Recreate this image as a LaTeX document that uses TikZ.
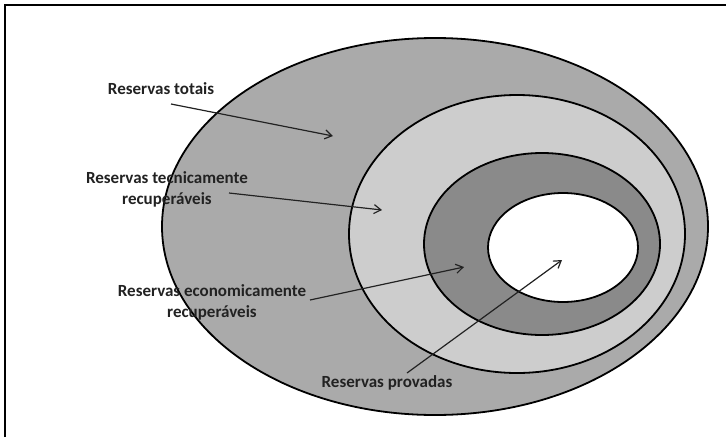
\documentclass[tikz,border=0pt]{standalone}
\usepackage{fontspec}
\setmainfont{Carlito}
\usepackage{xcolor}
\usepackage{tikz}
\usetikzlibrary{
  shapes.geometric,
  arrows.meta,
  positioning
}
\definecolor{RingOuter}{RGB}{170, 170, 170}
\definecolor{RingTech}{RGB}{205, 205, 205}
\definecolor{RingEcon}{RGB}{138, 138, 138}
\definecolor{LabelInk}{RGB}{34, 34, 34}
\tikzset{
    zone/.style={ellipse, draw=black, line width=1.8pt, inner sep=0pt},
    reslabel/.style={align=center, text=LabelInk, font=\bfseries\fontsize{17}{21}\selectfont},
    pointer/.style={draw=LabelInk, line width=1.2pt, -{Straight Barb[length=7pt, width=9pt]}}
}

\begin{document}
\begin{tikzpicture}[x=1pt, y=-1pt]
            \useasboundingbox (0,0) rectangle (726,437);
            \fill[white] (0,0) rectangle (726,437);
            \draw[line width=2pt] (5,437) -- (5,5) -- (726,5);

            % nested reserve zones
            \node[zone, fill=RingOuter, minimum width=546pt, minimum height=377pt] (totais) at (435,226.5) {};
            \node[zone, fill=RingTech, minimum width=336pt, minimum height=278pt] (tecnicas) at (517,234) {};
            \node[zone, fill=RingEcon, minimum width=236pt, minimum height=182pt] (economicas) at (542,244) {};
            \node[zone, fill=white, minimum width=150pt, minimum height=109pt] (provadas) at (563,247.5) {};

            % labels
            \node[reslabel] (lbltotais) at (161,89) {Reservas totais};
            \node[reslabel] (lbltecnicas) at (167,189.5) {Reservas tecnicamente\\recuperáveis};
            \node[reslabel] (lbleconomicas) at (212,302.5) {Reservas economicamente\\recuperáveis};
            \node[reslabel] (lblprovadas) at (387,383) {Reservas provadas};

            % arrow ends
            \coordinate (starttotais) at (171,104);
            \coordinate (endtotais) at (333,136);
            \coordinate (starttecnicas) at (229,193);
            \coordinate (endtecnicas) at (382,210);
            \coordinate (starteconomicas) at (310,300);
            \coordinate (endeconomicas) at (464,267);
            \coordinate (startprovadas) at (407,373);
            \coordinate (endprovadas) at (562,260);

            \draw[pointer] (starttotais) -- (endtotais);
            \draw[pointer] (starttecnicas) -- (endtecnicas);
            \draw[pointer] (starteconomicas) -- (endeconomicas);
            \draw[pointer] (startprovadas) -- (endprovadas);
        \end{tikzpicture}
\end{document}
